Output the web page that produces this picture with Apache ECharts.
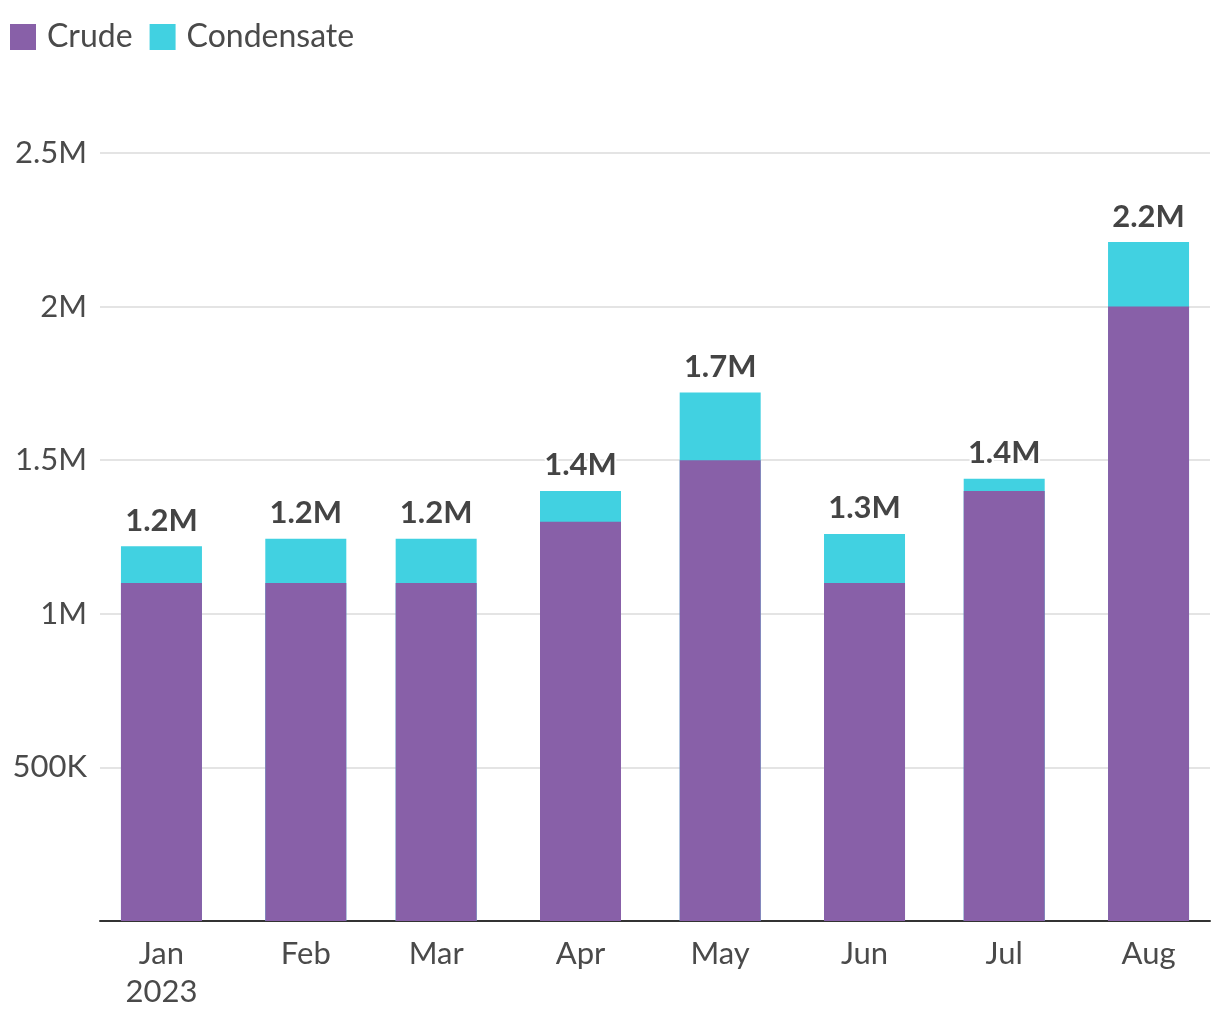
<!DOCTYPE html>
<html><head><meta charset="utf-8">
<script src="https://cdn.jsdelivr.net/npm/echarts@6/dist/echarts.min.js"></script>
<style>html,body{margin:0;padding:0;background:#fff}#c{width:1220px;height:1020px}</style>
</head><body><div id="c"></div>
<script>
const months = ['Jan', 'Feb', 'Mar', 'Apr', 'May', 'Jun', 'Jul', 'Aug'];
const crude = [1100000, 1100000, 1100000, 1300000, 1500000, 1100000, 1400000, 2000000];
const condensate = [120000, 144000, 144000, 100000, 220000, 160000, 40000, 210000];
const yTicks = [0, 500000, 1000000, 1500000, 2000000, 2500000];
const yTickLabels = ['', '500K', '1M', '1.5M', '2M', '2.5M'];

const DAY = 86400000;
const monthStarts = months.map((m, i) => Date.UTC(2023, i, 1));
const totals = crude.map((c, i) => c + condensate[i]);
const font = 'Lato, "Noto Sans", sans-serif';
const PURPLE = '#8860a8', CYAN = '#41d1e1';

const chart = echarts.init(document.getElementById('c'));
chart.setOption({
  animation: false,
  textStyle: { fontFamily: font },
  legend: {
    left: 5, top: 16, itemWidth: 26, itemHeight: 26, itemGap: 17,
    icon: 'rect',
    textStyle: { fontSize: 32, color: '#4a4a4a', fontFamily: font, padding: [0, 0, 0, 6] },
    data: ['Crude', 'Condensate']
  },
  grid: { left: 100, right: 10, top: 153, bottom: 99, containLabel: false },
  xAxis: {
    type: 'value',
    min: monthStarts[0] - 13.2 * DAY,
    max: monthStarts[7] + 13.2 * DAY,
    axisLine: { onZero: false, lineStyle: { color: '#333', width: 2 } },
    axisTick: { show: false },
    splitLine: { show: false },
    axisLabel: {
      customValues: monthStarts,
      fontSize: 31, color: '#4a4a4a', fontFamily: font, lineHeight: 38, margin: 14,
      formatter: v => {
        const d = new Date(v);
        const i = d.getUTCMonth();
        return i === 0 ? months[i] + '\n' + d.getUTCFullYear() : months[i];
      }
    }
  },
  yAxis: {
    type: 'value', min: 0, max: 2500000, interval: 500000,
    axisLine: { show: false }, axisTick: { show: false },
    splitLine: { lineStyle: { color: '#e4e4e4', width: 2 } },
    axisLabel: {
      fontSize: 31, color: '#4a4a4a', fontFamily: font, margin: 13, padding: [6, 0, 0, 0],
      formatter: v => { const k = yTicks.indexOf(v); return k >= 0 ? yTickLabels[k] : ''; }
    }
  },
  series: [
    {
      name: 'Condensate', type: 'bar', barWidth: 81,
      itemStyle: { color: CYAN },
      data: monthStarts.map((t, i) => [t, totals[i]]),
      label: {
        show: true, position: 'top', distance: 10,
        fontSize: 31, fontWeight: 'bold', color: '#444', fontFamily: font,
        textBorderColor: '#fff', textBorderWidth: 4,
        formatter: p => (totals[p.dataIndex] / 1e6).toFixed(1) + 'M'
      }
    },
    {
      name: 'Crude', type: 'bar', barWidth: 81, barGap: '-100%',
      itemStyle: { color: PURPLE },
      data: monthStarts.map((t, i) => [t, crude[i]])
    }
  ]
});
</script></body></html>
